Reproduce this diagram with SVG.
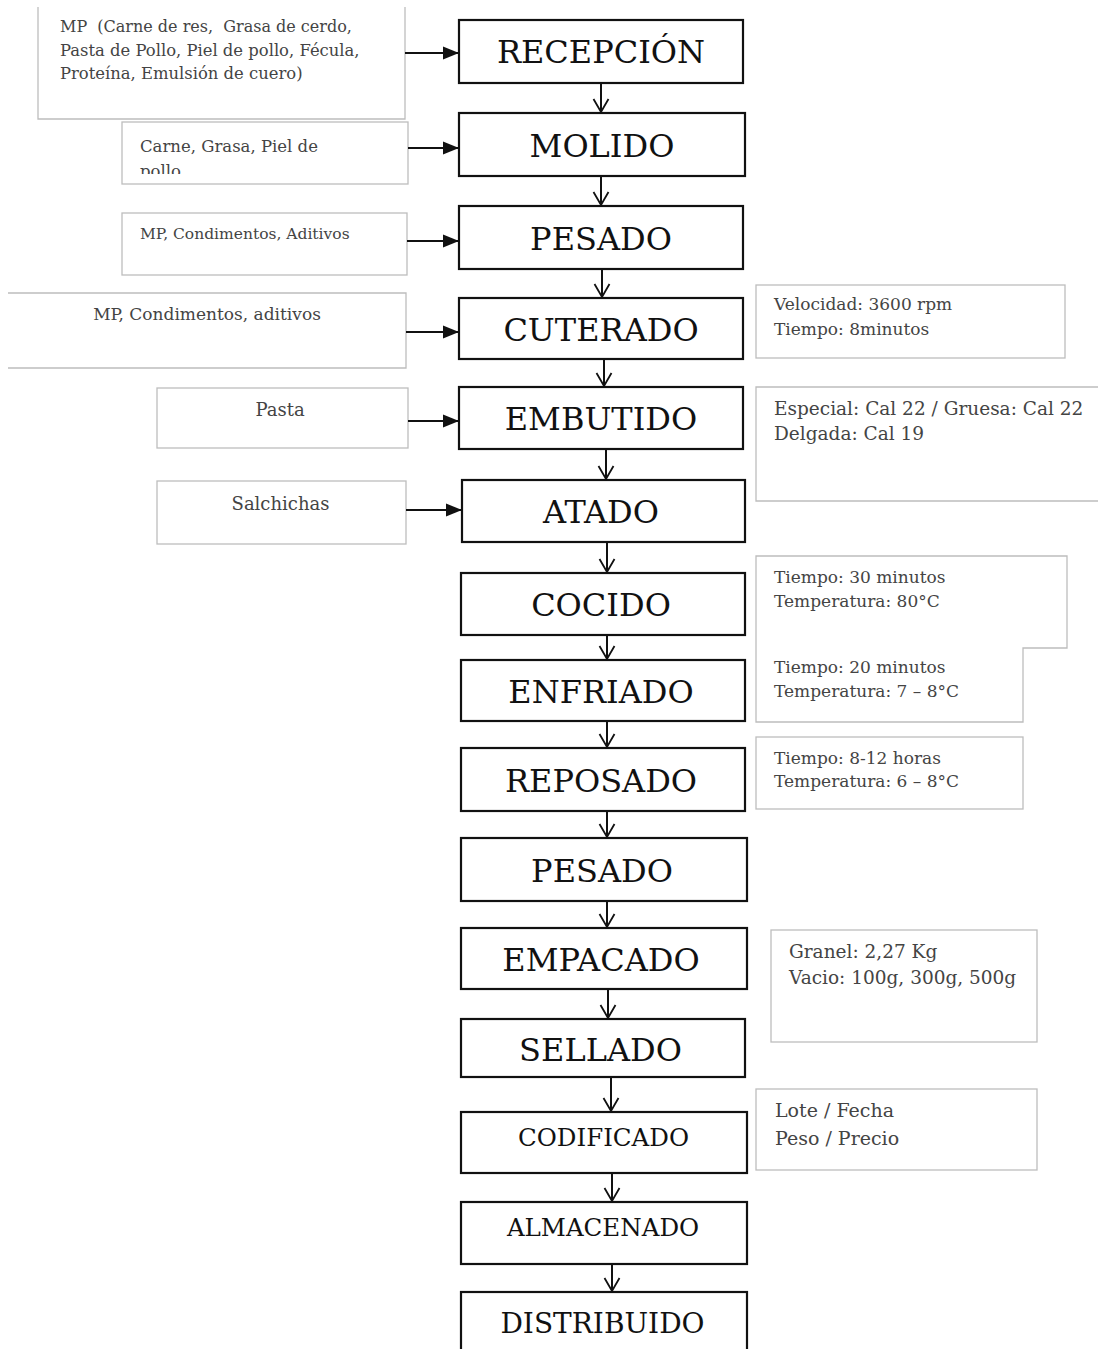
<svg xmlns="http://www.w3.org/2000/svg" width="1098" height="1349" viewBox="0 0 1098 1349">
<style>
  .proc{fill:#fff;stroke:#111;stroke-width:2.2}
  .note{fill:#fff;stroke:#bdbdbd;stroke-width:1.3}
  .t{font-family:"DejaVu Serif","Liberation Serif",serif;font-size:32px;fill:#111;text-anchor:middle}
  .tm{font-size:24.5px}
  .td{font-size:28px}
  .s{font-family:"DejaVu Serif","Liberation Serif",serif;fill:#444;white-space:pre}
  .c{text-anchor:middle}
  .conn line{stroke:#111;stroke-width:2}
</style>
<defs>
  <marker id="vee" markerUnits="userSpaceOnUse" viewBox="-2 -9 18 18" markerWidth="18" markerHeight="18" refX="14" refY="0" orient="auto" overflow="visible">
    <path d="M1,-7.5 L14,0 L1,7.5" fill="none" stroke="#111" stroke-width="1.8"/>
  </marker>
  <marker id="tri" markerUnits="userSpaceOnUse" viewBox="0 -8 17 16" markerWidth="17" markerHeight="16" refX="16" refY="0" orient="auto" overflow="visible">
    <path d="M0,-6.5 L16,0 L0,6.5 z" fill="#111"/>
  </marker>
  <clipPath id="clipPollo"><rect x="122" y="122" width="286" height="52"/></clipPath>
</defs>

<!-- input notes (left) -->
<g id="in-mp">
  <path class="note" d="M38,7 V119 H405 V7"/>
  <text class="s" font-size="16" x="60" y="32" xml:space="preserve">MP  (Carne de res,  Grasa de cerdo,</text>
  <text class="s" font-size="16.4" x="60" y="56">Pasta de Pollo, Piel de pollo, Fécula,</text>
  <text class="s" font-size="16.4" x="60" y="79">Proteína, Emulsión de cuero)</text>
</g>
<g id="in-carne">
  <rect class="note" x="122" y="122" width="286" height="62"/>
  <g clip-path="url(#clipPollo)">
    <text class="s" font-size="16.5" x="140" y="152">Carne, Grasa, Piel de</text>
    <text class="s" font-size="16.5" x="140" y="177">pollo</text>
  </g>
</g>
<g id="in-mp2">
  <rect class="note" x="122" y="213" width="285" height="62"/>
  <text class="s" font-size="15.5" x="140" y="239">MP, Condimentos, Aditivos</text>
</g>
<g id="in-mp3">
  <path class="note" d="M8,293 H406 V368 H8"/>
  <text class="s c" font-size="17" x="207" y="320">MP, Condimentos, aditivos</text>
</g>
<g id="in-pasta">
  <rect class="note" x="157" y="388" width="251" height="60"/>
  <text class="s c" font-size="18" x="280" y="416">Pasta</text>
</g>
<g id="in-salchichas">
  <rect class="note" x="157" y="481" width="249" height="63"/>
  <text class="s c" font-size="18" x="280.5" y="510">Salchichas</text>
</g>

<!-- process nodes -->
<g id="n-recepcion"><rect class="proc" x="459" y="20" width="284" height="63"/><text class="t" x="601" y="63" font-size="31">RECEPCIÓN</text></g>
<g id="n-molido"><rect class="proc" x="459" y="113" width="286" height="63"/><text class="t" x="602" y="157">MOLIDO</text></g>
<g id="n-pesado1"><rect class="proc" x="459" y="206" width="284" height="63"/><text class="t" x="601" y="250">PESADO</text></g>
<g id="n-cuterado"><rect class="proc" x="459" y="298" width="284" height="61"/><text class="t" x="601" y="341">CUTERADO</text></g>
<g id="n-embutido"><rect class="proc" x="459" y="387" width="284" height="62"/><text class="t" x="601" y="430">EMBUTIDO</text></g>
<g id="n-atado"><rect class="proc" x="462" y="480" width="283" height="62"/><text class="t" x="601" y="523">ATADO</text></g>
<g id="n-cocido"><rect class="proc" x="461" y="573" width="284" height="62"/><text class="t" x="601" y="616">COCIDO</text></g>
<g id="n-enfriado"><rect class="proc" x="461" y="660" width="284" height="61"/><text class="t" x="601" y="703">ENFRIADO</text></g>
<g id="n-reposado"><rect class="proc" x="461" y="748" width="284" height="63"/><text class="t" x="601" y="792">REPOSADO</text></g>
<g id="n-pesado2"><rect class="proc" x="461" y="838" width="286" height="63"/><text class="t" x="602" y="882">PESADO</text></g>
<g id="n-empacado"><rect class="proc" x="461" y="928" width="286" height="61"/><text class="t" x="601" y="971">EMPACADO</text></g>
<g id="n-sellado"><rect class="proc" x="461" y="1019" width="284" height="58"/><text class="t" x="600.5" y="1061">SELLADO</text></g>
<g id="n-codificado"><rect class="proc" x="461" y="1112" width="286" height="61"/><text class="t tm" x="603.5" y="1146">CODIFICADO</text></g>
<g id="n-almacenado"><rect class="proc" x="461" y="1202" width="286" height="62"/><text class="t tm" x="603" y="1236">ALMACENADO</text></g>
<g id="n-distribuido"><rect class="proc" x="461" y="1292" width="286" height="72"/><text class="t td" x="602.5" y="1333">DISTRIBUIDO</text></g>

<!-- parameter notes (right) -->
<g id="p-cuterado">
  <rect class="note" x="756" y="285" width="309" height="73"/>
  <text class="s" font-size="17" x="774" y="310">Velocidad: 3600 rpm</text>
  <text class="s" font-size="17" x="774" y="335">Tiempo: 8minutos</text>
</g>
<g id="p-embutido">
  <path class="note" d="M1099,387 H756 V501 H1099"/>
  <text class="s" font-size="18.5" x="774" y="415">Especial: Cal 22 / Gruesa: Cal 22</text>
  <text class="s" font-size="18.5" x="774" y="440">Delgada: Cal 19</text>
</g>
<g id="p-cocido-enfriado">
  <path class="note" d="M756,556 H1067 V648 H1023 V722 H756 Z"/>
  <text class="s" font-size="17" x="774" y="583">Tiempo: 30 minutos</text>
  <text class="s" font-size="17" x="774" y="607">Temperatura: 80°C</text>
  <text class="s" font-size="17" x="774" y="673">Tiempo: 20 minutos</text>
  <text class="s" font-size="17" x="774" y="697">Temperatura: 7 – 8°C</text>
</g>
<g id="p-reposado">
  <rect class="note" x="756" y="737" width="267" height="72"/>
  <text class="s" font-size="17" x="774" y="764">Tiempo: 8-12 horas</text>
  <text class="s" font-size="17" x="774" y="787">Temperatura: 6 – 8°C</text>
</g>
<g id="p-empacado">
  <rect class="note" x="771" y="930" width="266" height="112"/>
  <text class="s" font-size="18.5" x="789" y="958">Granel: 2,27 Kg</text>
  <text class="s" font-size="18.5" x="789" y="984">Vacio: 100g, 300g, 500g</text>
</g>
<g id="p-codificado">
  <rect class="note" x="756" y="1089" width="281" height="81"/>
  <text class="s" font-size="19" x="775" y="1117">Lote / Fecha</text>
  <text class="s" font-size="19" x="775" y="1145">Peso / Precio</text>
</g>

<!-- connectors -->
<g id="connectors" class="conn">
  <line x1="405" y1="53" x2="459" y2="53" marker-end="url(#tri)"/>
  <line x1="408" y1="148" x2="459" y2="148" marker-end="url(#tri)"/>
  <line x1="407" y1="241" x2="459" y2="241" marker-end="url(#tri)"/>
  <line x1="406" y1="332" x2="459" y2="332" marker-end="url(#tri)"/>
  <line x1="408" y1="421" x2="459" y2="421" marker-end="url(#tri)"/>
  <line x1="406" y1="510" x2="462" y2="510" marker-end="url(#tri)"/>

  <line x1="601" y1="83" x2="601" y2="112" marker-end="url(#vee)"/>
  <line x1="601" y1="176" x2="601" y2="205" marker-end="url(#vee)"/>
  <line x1="602" y1="269" x2="602" y2="297" marker-end="url(#vee)"/>
  <line x1="604" y1="359" x2="604" y2="386" marker-end="url(#vee)"/>
  <line x1="606" y1="449" x2="606" y2="479" marker-end="url(#vee)"/>
  <line x1="607" y1="542" x2="607" y2="572" marker-end="url(#vee)"/>
  <line x1="607" y1="635" x2="607" y2="659" marker-end="url(#vee)"/>
  <line x1="607" y1="721" x2="607" y2="747" marker-end="url(#vee)"/>
  <line x1="607" y1="811" x2="607" y2="837" marker-end="url(#vee)"/>
  <line x1="607" y1="901" x2="607" y2="927" marker-end="url(#vee)"/>
  <line x1="608" y1="989" x2="608" y2="1018" marker-end="url(#vee)"/>
  <line x1="611" y1="1077" x2="611" y2="1111" marker-end="url(#vee)"/>
  <line x1="612" y1="1173" x2="612" y2="1201" marker-end="url(#vee)"/>
  <line x1="612" y1="1264" x2="612" y2="1291" marker-end="url(#vee)"/>
</g>
</svg>
